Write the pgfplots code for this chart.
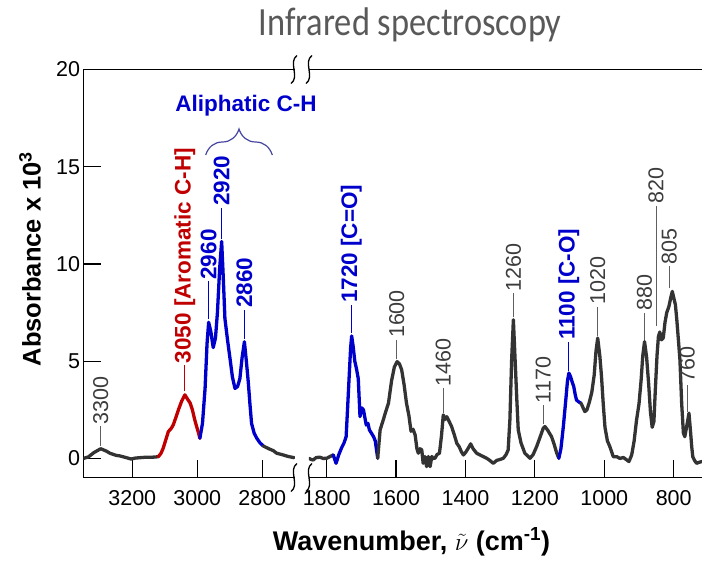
\documentclass[border=0pt]{standalone}
\usepackage{fontspec}
\setmainfont{Liberation Sans}
\newfontfamily\titlefont{Carlito}
\usepackage{graphicx}
\usepackage{pgfplots}
\pgfplotsset{compat=1.18}
\usetikzlibrary{decorations.pathreplacing}

\definecolor{cgray}{RGB}{51,51,51}
\definecolor{cred}{RGB}{192,0,0}
\definecolor{cblue}{RGB}{0,0,204}
\definecolor{lblgray}{RGB}{60,60,60}
\definecolor{linegray}{RGB}{95,95,95}
\definecolor{titlegray}{RGB}{89,89,89}
\definecolor{bracecol}{RGB}{70,70,160}

\tikzset{
  glbl/.style={rotate=90, anchor=west, inner sep=1.5pt, text=lblgray, font=\fontsize{21.5}{24}\selectfont},
  blbl/.style={rotate=90, anchor=west, inner sep=1.5pt, text=cblue, font=\bfseries\fontsize{22.5}{25}\selectfont},
  rlbl/.style={rotate=90, anchor=west, inner sep=1.5pt, text=cred, font=\bfseries\fontsize{22.5}{25}\selectfont},
  gline/.style={draw=linegray, line width=0.8pt},
  bline/.style={draw=cblue, line width=0.9pt},
  rline/.style={draw=cred, line width=0.9pt},
  curve/.style={line width=3.3pt, line join=round, line cap=round, mark=none},
}

\pgfplotsset{
  brk/.style={
    scale only axis, height=408pt, ymin=-0.98, ymax=20,
    x dir=reverse, tick align=inside, major tick length=18pt,
    axis x line*=box, xtick pos=left,
    axis line style={line width=1.2pt, black},
    every tick/.style={line width=1.2pt, black},
    ticklabel style={font=\fontsize{21.5}{24}\selectfont, black},
    xticklabel style={yshift=-9pt},
    /pgf/number format/assume math mode=true,
    /pgf/number format/1000 sep={},
  }
}

\newcommand{\brkmark}[2]{\draw[line width=1.3pt, black] (#1pt+3pt,#2pt+14pt) .. controls (#1pt-6pt,#2pt+8pt) and (#1pt+6pt,#2pt-8pt) .. (#1pt-3pt,#2pt-14pt);}

\begin{document}
\begin{tikzpicture}
\useasboundingbox (0pt,0pt) rectangle (702pt,-560pt);

% ---------- left segment ----------
\begin{axis}[brk, at={(83.5pt,-477.5pt)}, anchor=south west, width=211.3pt,
  xmin=2700, xmax=3350, xtick={3200,3000,2800},
  axis y line*=left, ytick pos=left, ytick={0,5,10,15,20}]
\addplot[curve, cgray] coordinates {(3350,0.00) (3335,0.08) (3318,0.30) (3297,0.50) (3280,0.38) (3269,0.27) (3250,0.16) (3238,0.13) (3220,0.05) (3204,-0.03) (3190,0.02) (3176,0.04) (3160,0.06) (3146,0.06) (3132,0.07) (3120,0.09)};
\addplot[curve, cred] coordinates {(3120,0.09) (3112,0.25) (3105,0.52) (3096,1.0) (3089,1.38) (3080,1.55) (3074,1.72) (3066,2.1) (3058,2.5) (3048,2.95) (3038,3.27) (3030,3.05) (3022,2.85) (3015,2.5) (3008,2.0) (3002,1.64) (2996,1.3) (2992,1.04)};
\addplot[curve, cblue] coordinates {(2992,1.04) (2984,1.8) (2976,3.6) (2970,5.9) (2965,7.0) (2958,6.5) (2951,5.7) (2944,6.2) (2938,7.5) (2931,9.8) (2925,11.16) (2920,9.3) (2915,7.2) (2907,6.1) (2899,5.1) (2892,4.2) (2884,3.6) (2876,3.7) (2869,4.1) (2862,5.2) (2855,6.0) (2849,5.0) (2843,3.9) (2838,2.8) (2833,1.8) (2825,1.3) (2817,1.04) (2807,0.8) (2797,0.64)};
\addplot[curve, cgray] coordinates {(2797,0.64) (2780,0.5) (2766,0.4) (2756,0.27) (2740,0.2) (2720,0.1) (2702,0.04)};

\draw[gline] (axis cs:3297,0.65) -- (axis cs:3297,1.65) node[glbl]{3300};
\draw[rline] (axis cs:3038,3.45) -- (axis cs:3038,4.8) node[rlbl]{3050 [Aromatic C-H]};
\draw[bline] (axis cs:2965,7.15) -- (axis cs:2965,9.1) node[blbl]{2960};
\draw[bline] (axis cs:2925,11.3) -- (axis cs:2925,12.9) node[blbl]{2920};
\draw[bline] (axis cs:2855,6.15) -- (axis cs:2855,7.65) node[blbl]{2860};
\end{axis}

% ---------- right segment ----------
\begin{axis}[brk, at={(309pt,-477.5pt)}, anchor=south west, width=393pt,
  xmin=718.4, xmax=1851, xtick={1800,1600,1400,1200,1000,800},
  axis y line=none, ytick=\empty]
\addplot[curve, cgray] coordinates {(1851,0.0) (1845,-0.05) (1839,-0.08) (1830,0.05) (1819,0.06) (1810,0.0) (1800,0.01) (1790,0.1) (1781,0.18)};
\addplot[curve, cblue] coordinates {(1781,0.18) (1773,-0.25) (1765,0.2) (1757,0.55) (1750,0.8) (1744,1.12) (1740,2.5) (1735,4.3) (1731,5.7) (1728,6.3) (1724,5.8) (1719,5.0) (1714,4.6) (1709,4.1) (1704,2.15) (1699,2.6) (1694,2.5) (1690,2.1) (1686,1.72) (1681,1.8) (1677,1.47) (1671,1.3) (1665,1.12) (1660,0.9) (1653,0.01)};
\addplot[curve, cgray] coordinates {(1653,0.01) (1646,1.47) (1637,1.98) (1630,2.4) (1622,2.84) (1613,4.0) (1605,4.7) (1597,4.98) (1590,4.85) (1584,4.56) (1577,3.8) (1570,2.84) (1563,2.2) (1557,1.4) (1551,1.5) (1545,1.2) (1540,0.5) (1536,0.27) (1531,0.5) (1526,0.44) (1522,-0.25) (1517,0.1) (1512,-0.42) (1507,0.1) (1502,-0.42) (1497,0.1) (1493,0.0) (1488,0.01) (1482,0.2) (1475,0.27) (1469,1.2) (1464,2.24) (1459,2.0) (1454,2.15) (1447,1.9) (1440,1.64) (1432,1.2) (1425,0.78) (1418,0.6) (1412,0.35) (1406,0.18) (1400,0.3) (1393,0.5) (1385,0.75) (1378,0.5) (1368,0.27) (1355,0.15) (1339,0.01) (1330,-0.1) (1320,-0.25) (1310,-0.1) (1300,-0.05) (1291,0.01) (1283,0.2) (1277,0.44) (1272,2.0) (1267,5.07) (1262,7.13) (1257,5.07) (1252,3.0) (1248,1.47) (1240,0.8) (1229,0.27) (1214,0.01) (1205,0.2) (1195,0.61) (1185,1.1) (1176,1.55) (1171,1.64) (1163,1.45) (1152,1.12) (1144,0.7) (1137,0.27) (1131,0.01)};
\addplot[curve, cblue] coordinates {(1131,0.01) (1125,0.5) (1118,1.64) (1111,3.0) (1106,4.0) (1102,4.39) (1097,4.2) (1092,3.9) (1088,3.7) (1084,3.3) (1080,3.0) (1073,2.9) (1067,2.84)};
\addplot[curve, cgray] coordinates {(1067,2.84) (1061,2.6) (1056,2.41) (1050,2.5) (1043,2.9) (1036,3.4) (1029,4.3) (1024,5.5) (1019,6.19) (1013,5.3) (1008,4.21) (1003,2.8) (998,1.6) (991,0.9) (984,0.61) (974,0.09) (964,0.09) (955,0.0) (945,0.05) (935,-0.08) (929,-0.16) (921,0.18) (914,0.9) (907,1.98) (900,2.8) (894,4.0) (889,5.3) (884,6.01) (878,5.2) (872,3.8) (867,2.4) (862,1.6) (857,1.9) (853,3.5) (848,5.3) (844,6.27) (840,6.5) (835,6.1) (830,6.2) (825,7.0) (820,7.5) (814,7.8) (808,8.3) (804,8.59) (799,8.2) (795,7.9) (791,7.13) (786,6.0) (782,5.07) (777,2.84) (772,1.3) (768,1.12) (763,1.6) (759,2.0) (756,2.33) (752,1.5) (748,0.6) (745,0.09) (740,-0.1) (734,-0.25) (727,-0.2) (719,-0.16)};

\draw[bline] (axis cs:1729,6.45) -- (axis cs:1729,7.9) node[blbl]{1720 [C=O]};
\draw[gline] (axis cs:1598,5.1) -- (axis cs:1598,6.1) node[glbl]{1600};
\draw[gline] (axis cs:1464,2.35) -- (axis cs:1464,3.6) node[glbl]{1460};
\draw[gline] (axis cs:1262,7.25) -- (axis cs:1262,8.5) node[glbl]{1260};
\draw[gline] (axis cs:1176,1.75) -- (axis cs:1176,2.75) node[glbl]{1170};
\draw[bline] (axis cs:1102,4.5) -- (axis cs:1102,6.0) node[blbl]{1100 [C-O]};
\draw[gline] (axis cs:1019,6.3) -- (axis cs:1019,7.8) node[glbl]{1020};
\draw[gline] (axis cs:884,6.1) -- (axis cs:884,7.5) node[glbl]{880};
\draw[gline] (axis cs:851,6.8) -- (axis cs:851,13.0) node[glbl]{820};
\draw[gline] (axis cs:813,8.75) -- (axis cs:813,9.9) node[glbl]{805};
\draw[gline] (axis cs:761,2.4) -- (axis cs:761,3.8) node[glbl]{760};
\end{axis}

% break marks
\brkmark{294}{-69.5}
\brkmark{309}{-69.5}
\brkmark{294}{-477.5}
\brkmark{309}{-477.5}

% brace and group label
\node[anchor=base, text=cblue, font=\bfseries\fontsize{22.5}{25}\selectfont] at (246pt,-111.5pt) {Aliphatic C-H};
\draw[bracecol, line width=1.2pt, decorate, decoration={brace, amplitude=26pt}] (205.7pt,-155pt) -- (272.3pt,-155pt);

% title and axis labels
\node[anchor=base, text=titlegray, font=\titlefont\fontsize{40}{44}\selectfont] at (410pt,-35pt) {\scalebox{0.86}[1]{Infrared spectroscopy}};
\node[anchor=base, font=\bfseries\fontsize{27}{30}\selectfont] at (411.5pt,-550pt) {Wavenumber, $\tilde{\nu}$ (cm\textsuperscript{-1})};
\node[rotate=90, anchor=base, font=\bfseries\fontsize{25.5}{28}\selectfont] at (40.7pt,-259pt) {Absorbance x 10\textsuperscript{3}};
\end{tikzpicture}
\end{document}
